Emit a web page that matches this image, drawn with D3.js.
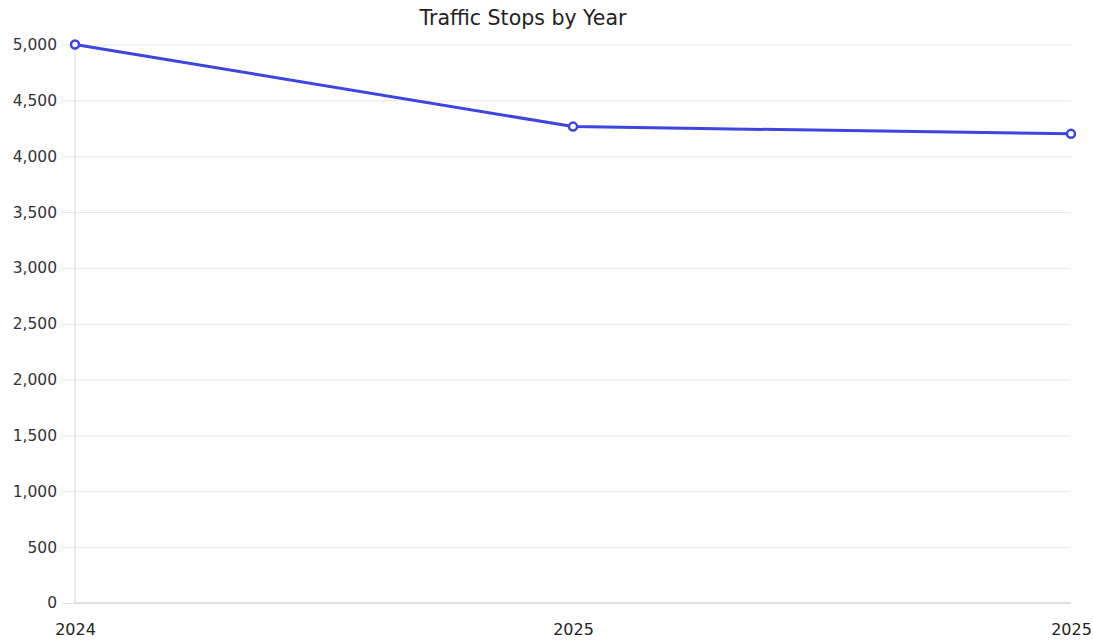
<!DOCTYPE html>
<html>
<head>
<meta charset="utf-8">
<script src="https://cdn.jsdelivr.net/npm/d3@7"></script>
<style>
  body { margin: 0; background: #fff; }
  text { font-family: "DejaVu Sans", Verdana, sans-serif; }
</style>
</head>
<body>
<div id="container"></div>
<script>
const years = ["2024", "2025", "2025"]
const stops = [5000, 4265, 4200]
const yTicks = [0, 500, 1000, 1500, 2000, 2500, 3000, 3500, 4000, 4500, 5000]

const width = 1093
const height = 643
const margin = {top: 44.5, bottom: 40, left: 75, right: 22}

const svg = d3.select("#container").append("svg")
    .attr("width", width)
    .attr("height", height)

const x = d3.scalePoint()
    .domain(years.map((d, i) => i))
    .range([margin.left, width - margin.right])

const y = d3.scaleLinear()
    .domain([0, 5000])
    .range([height - margin.bottom, margin.top])

// gridlines + y labels
const yAxis = svg.append("g")
    .attr("transform", `translate(${margin.left}, 0)`)
    .call(d3.axisLeft(y).tickValues(yTicks).tickFormat(d3.format(",")).tickSize(13).tickPadding(5))
yAxis.select(".domain").remove()
yAxis.selectAll(".tick line").attr("stroke", "#e6e6e6")
    .clone().attr("x1", 0).attr("x2", width - margin.right - margin.left)
yAxis.selectAll(".tick text").attr("fill", "#333").style("font-size", "15.5px")

// axis lines
svg.append("line")
    .attr("x1", margin.left).attr("x2", margin.left)
    .attr("y1", y(5000)).attr("y2", y(0))
    .attr("stroke", "#d6d6d6")
svg.append("line")
    .attr("x1", margin.left).attr("x2", width - margin.right)
    .attr("y1", y(0)).attr("y2", y(0))
    .attr("stroke", "#d6d6d6").attr("stroke-width", 1.5)

// x labels
const xAxis = svg.append("g")
    .attr("transform", `translate(0, ${height - margin.bottom})`)
    .call(d3.axisBottom(x).tickFormat(i => years[i]).tickSize(0).tickPadding(21))
xAxis.select(".domain").remove()
xAxis.selectAll(".tick text").attr("fill", "#222").style("font-size", "16px")

// title
svg.append("text")
    .attr("x", 523)
    .attr("y", 25)
    .attr("text-anchor", "middle")
    .attr("fill", "#222")
    .style("font-size", "20.5px")
    .text("Traffic Stops by Year")

const line = d3.line()
    .x((d, i) => x(i))
    .y(d => y(d))

svg.append("path")
    .datum(stops)
    .attr("fill", "none")
    .attr("stroke", "#3d44e0")
    .attr("stroke-width", 3)
    .attr("d", line)

svg.selectAll(".dot")
    .data(stops)
    .enter().append("circle")
    .attr("class", "dot")
    .attr("cx", (d, i) => x(i))
    .attr("cy", d => y(d))
    .attr("r", 4)
    .attr("fill", "#fff")
    .attr("stroke", "#3d44e0")
    .attr("stroke-width", 2.5)
</script>
</body>
</html>
